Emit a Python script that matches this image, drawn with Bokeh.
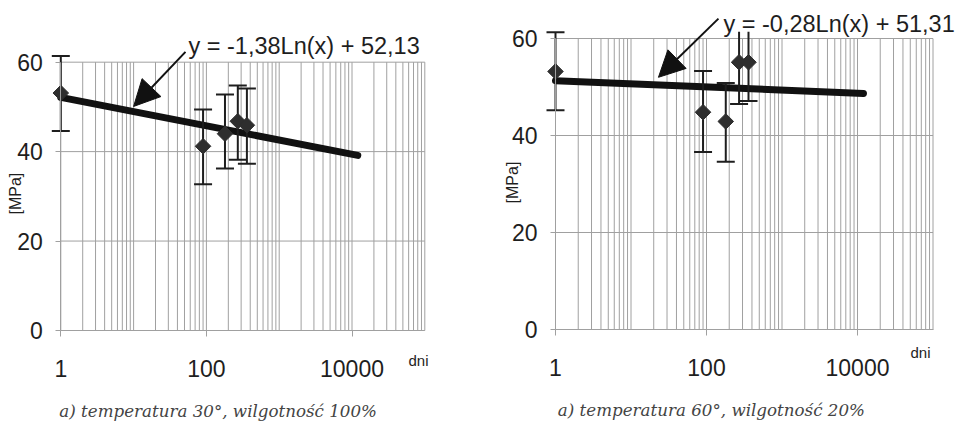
import numpy as np
from bokeh.plotting import figure
from bokeh.layouts import row
from bokeh.models import (FixedTicker, PrintfTickFormatter, Label, Arrow, NormalHead,
                          ColumnDataSource, Range1d)
from bokeh.embed import file_html
from bokeh.resources import INLINE

# ---------------- data ----------------
days = [1, 90, 180, 270, 360]

# chart a) 30 deg, 100 %
left_mean = [53.1, 41.2, 44.0, 46.8, 45.9]
left_upper = [61.4, 49.4, 52.8, 54.8, 54.1]
left_lower = [44.6, 32.7, 36.2, 38.2, 37.3]
left_a, left_b = -1.38, 52.13
left_eq = "y = -1,38Ln(x) + 52,13"
left_caption = "a) temperatura 30°, wilgotność 100%"

# chart b) 60 deg, 20 %
right_mean = [53.2, 44.8, 42.9, 55.1, 55.1]
right_upper = [61.3, 53.3, 50.8, 63.7, 63.1]
right_lower = [45.2, 36.6, 34.6, 46.5, 47.1]
right_a, right_b = -0.28, 51.31
right_eq = "y = -0,28Ln(x) + 51,31"
right_caption = "a) temperatura 60°, wilgotność 20%"

trend_x = [1, 12000]
x_ticks = [1, 100, 10000]
y_ticks = [0, 20, 40, 60]
x_label = "dni"
y_label = "[MPa]"

FONT = "Liberation Sans"
GRID = "#a0a0a0"
INK = "#1e1e1e"


def make_panel(width, height, x0_px, decade_px, y0_px, unit_px, plot_top,
               mean, upper, lower, a, b,
               eq, eq_pos, arrow, caption, cap_pos, ylab_pos, xlab_pos):
    # ranges chosen so that the frame fills the figure (axes placed inside)
    xr = Range1d(10 ** (-x0_px / decade_px), 10 ** ((width - x0_px) / decade_px))
    yr = Range1d(-(height - y0_px) / unit_px, y0_px / unit_px)
    p = figure(width=width, height=height, x_axis_type="log", x_range=xr,
               y_range=yr, output_backend="svg", toolbar_location=None,
               min_border=0)
    p.outline_line_color = None
    p.background_fill_color = "white"
    p.border_fill_color = "white"
    p.xgrid.visible = False
    p.ygrid.visible = False

    # log grid limited to the plot area
    gx = [k * 10 ** n for n in range(5) for k in range(1, 10)] + [1e5]
    p.segment(x0=gx, y0=[0] * len(gx), x1=gx, y1=[60] * len(gx),
              line_color=GRID, line_width=1)
    p.segment(x0=[1] * len(y_ticks), y0=y_ticks, x1=[1e5] * len(y_ticks),
              y1=y_ticks, line_color=GRID, line_width=1)

    # axes fixed at the plot-area edges
    xa = p.xaxis[0]
    xa.fixed_location = 0
    xa.bounds = (1, 1e5)
    xa.ticker = FixedTicker(ticks=x_ticks)
    xa.formatter = PrintfTickFormatter(format="%d")
    xa.axis_line_color = GRID
    xa.major_tick_line_color = GRID
    xa.major_tick_out = 6
    xa.major_tick_in = 0
    xa.minor_tick_line_color = None
    xa.major_label_standoff = 23
    ya = p.yaxis[0]
    ya.fixed_location = 1
    ya.bounds = (0, 60)
    ya.ticker = FixedTicker(ticks=y_ticks)
    ya.axis_line_color = GRID
    ya.major_tick_line_color = GRID
    ya.major_tick_out = 5
    ya.major_tick_in = 0
    ya.minor_tick_line_color = None
    ya.major_label_standoff = 13
    for ax in (xa, ya):
        ax.major_label_text_font = FONT
        ax.major_label_text_font_size = "23px"
        ax.major_label_text_color = INK

    # trend line (straight in log-x space)
    ty = [a * np.log(x) + b for x in trend_x]
    p.line(trend_x, ty, line_color="#111111", line_width=7, line_cap="round")

    # error bars, cut at the top of the plot area as in the original
    up = np.array(upper)
    src = ColumnDataSource(dict(x=days, m=mean, up=np.minimum(up, plot_top),
                                lo=lower))
    p.segment(x0="x", y0="lo", x1="x", y1="up", source=src,
              line_color=INK, line_width=2)
    keep = up <= plot_top
    p.scatter([d for d, k in zip(days, keep) if k], list(up[keep]), marker="dash",
              size=18, line_color=INK, line_width=2)
    p.scatter("x", "lo", source=src, marker="dash", size=18,
              line_color=INK, line_width=2)
    p.scatter("x", "m", source=src, marker="square", angle=np.pi / 4, size=11,
              fill_color="#2e2e2e", line_color="#2e2e2e")

    # equation + arrow
    p.add_layout(Label(x=eq_pos[0], y=eq_pos[1], text=eq, text_font=FONT,
                       text_font_size="23.5px", text_color=INK,
                       text_baseline="middle", text_align="left"))
    p.add_layout(Arrow(x_start=arrow[0], y_start=arrow[1], x_end=arrow[2],
                       y_end=arrow[3], line_color="#111111", line_width=2,
                       end=NormalHead(size=26, fill_color="#111111",
                                      line_color="#111111")))
    # axis titles
    p.add_layout(Label(x=ylab_pos[0], y=ylab_pos[1], text=y_label, angle=np.pi / 2,
                       text_font=FONT, text_font_size="16px", text_color=INK,
                       text_align="center", text_baseline="middle"))
    p.add_layout(Label(x=xlab_pos[0], y=xlab_pos[1], text=x_label,
                       text_font=FONT, text_font_size="15px", text_color=INK,
                       text_align="center", text_baseline="middle"))
    # caption
    p.add_layout(Label(x=cap_pos[0], y=cap_pos[1], text=caption,
                       text_font="DejaVu Serif", text_font_style="italic",
                       text_font_size="16.7px", text_color="#444444",
                       text_align="center", text_baseline="middle"))
    return p


p1 = make_panel(480, 432, 60.3, 72.8, 330, 4.472, 62.0,
                left_mean, left_upper, left_lower, left_a, left_b,
                left_eq, (56.8, 63.7), (51.6, 62.3, 10.0, 50.1),
                left_caption, (145, -17.9), (0.239, 30.6), (81900, -6.7))
p2 = make_panel(483, 432, 75, 75.5, 329, 4.85, 61.4,
                right_mean, right_upper, right_lower, right_a, right_b,
                right_eq, (168, 62.9), (144, 64.1, 23.1, 52.0),
                right_caption, (116, -16.7), (0.269, 30.3), (68200, -4.7))

layout = row(p1, p2)
open("out.html", "w").write(file_html(layout, INLINE))
